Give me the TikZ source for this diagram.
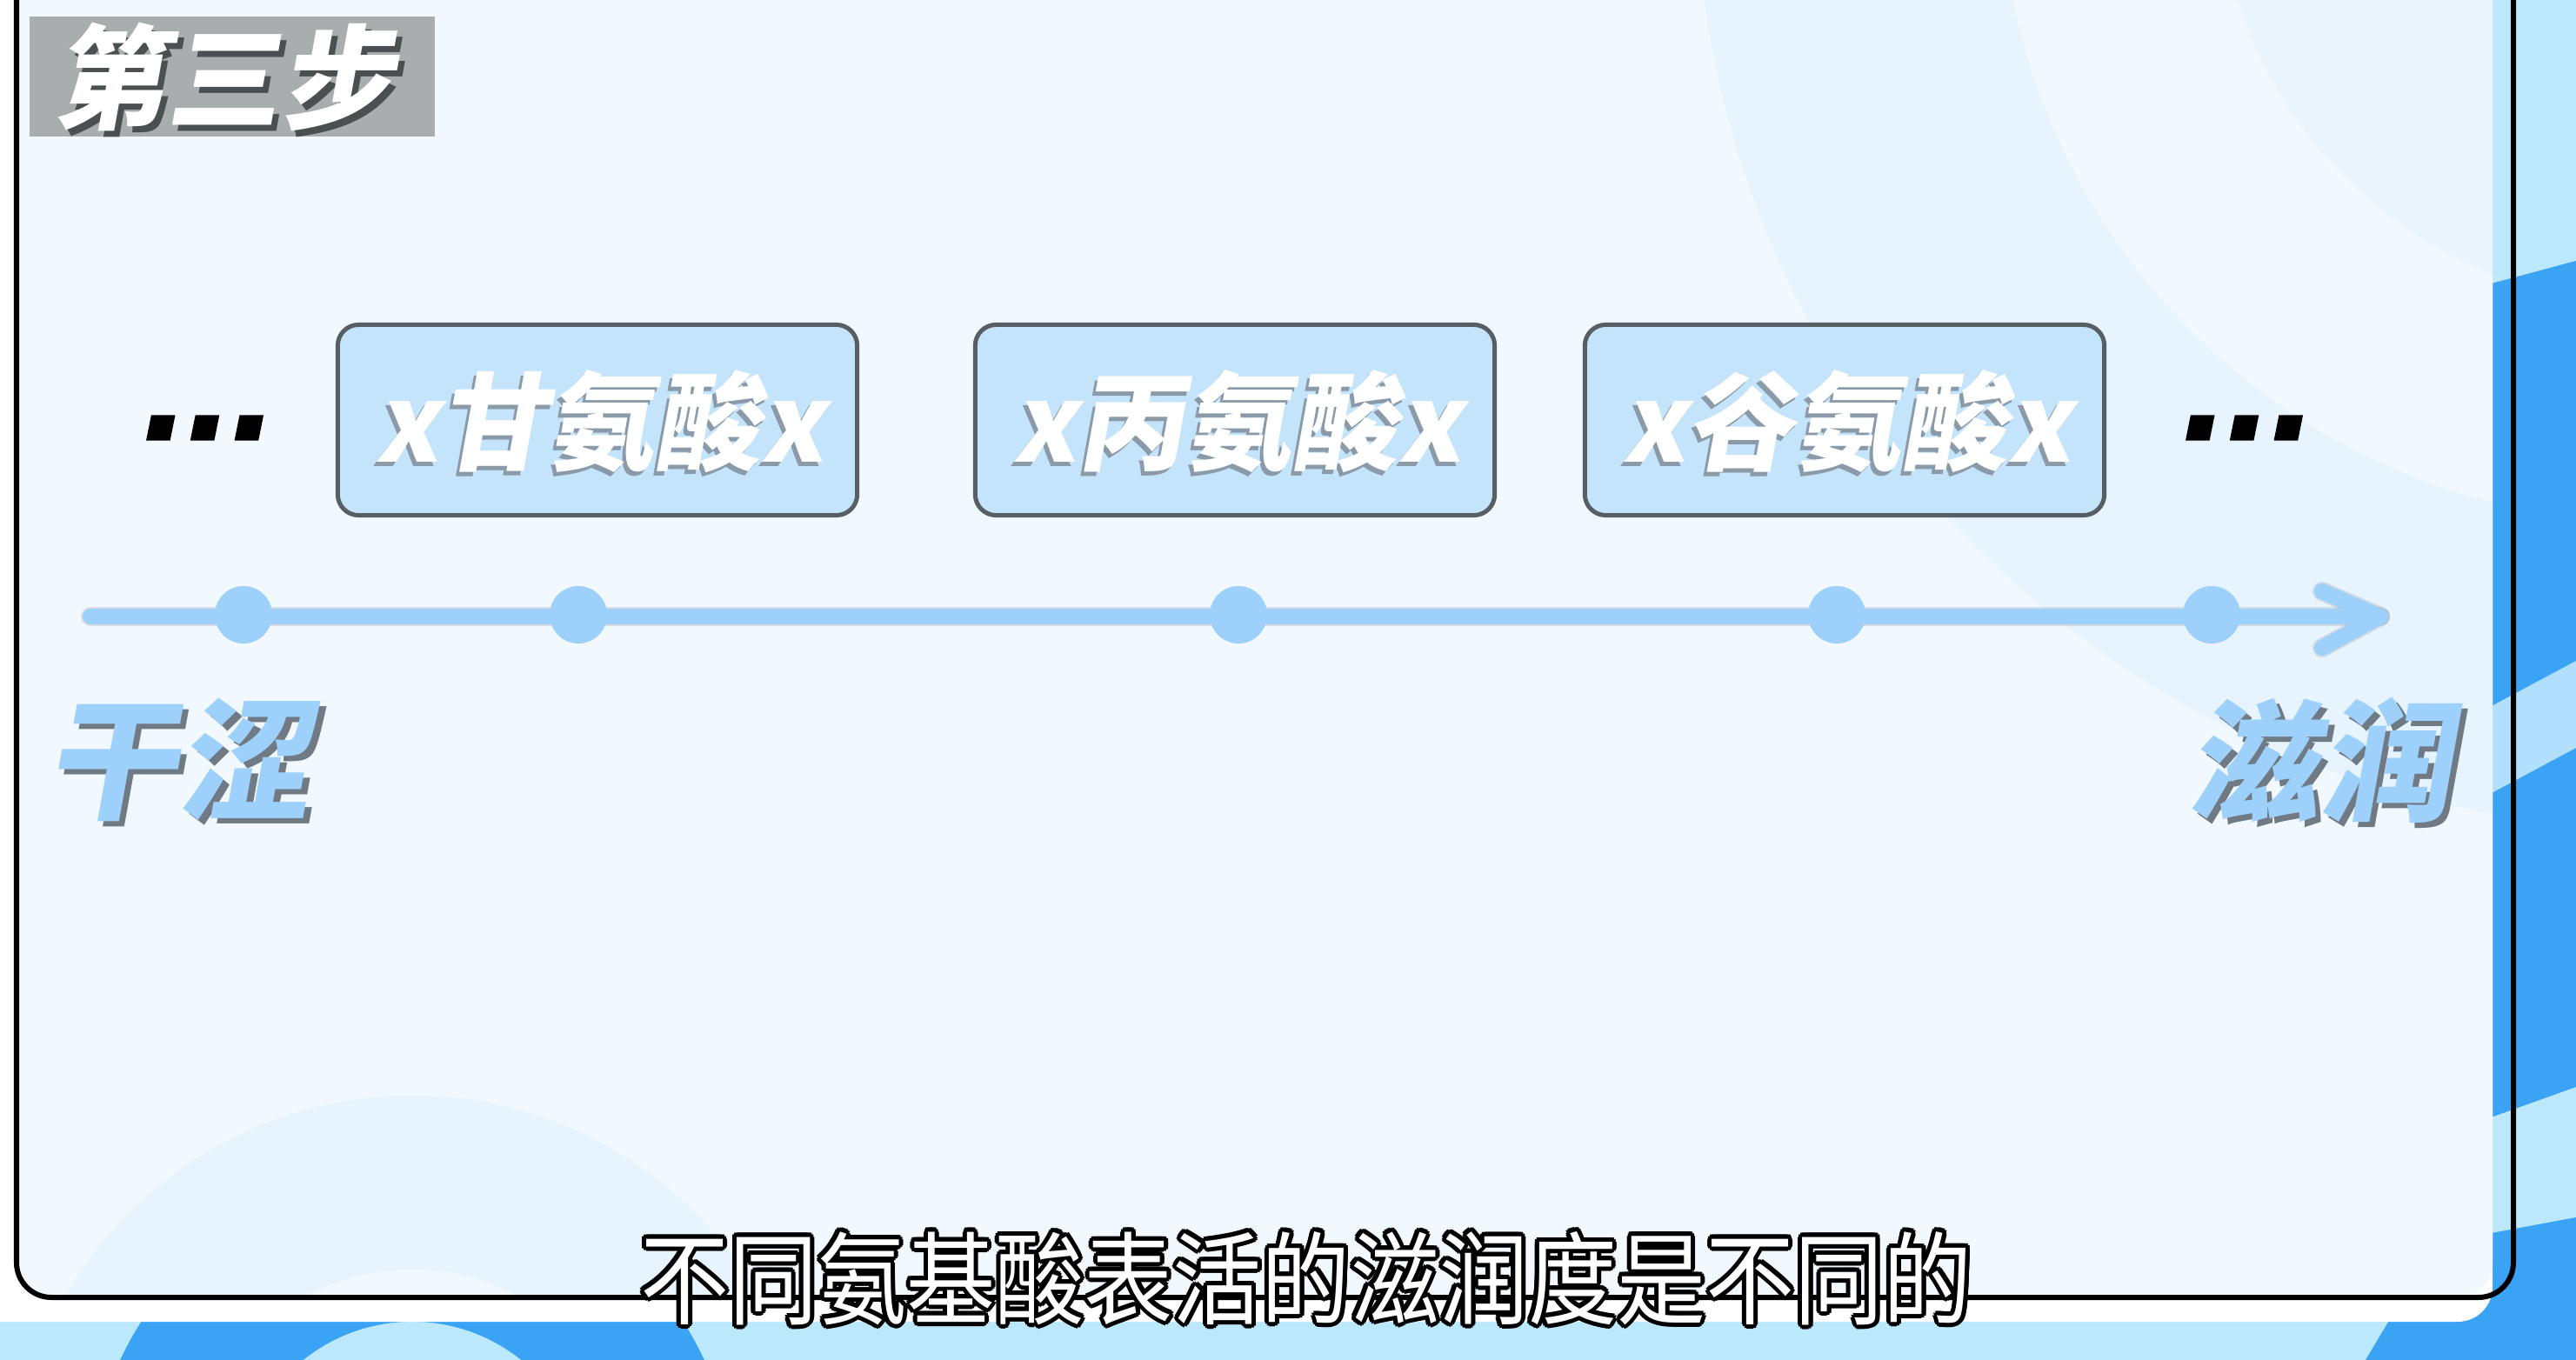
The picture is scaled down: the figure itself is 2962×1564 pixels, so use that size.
\documentclass[tikz,border=0pt]{standalone}
\usepackage{fontspec}
\newfontfamily\cjkit{Noto Sans CJK SC}[FakeSlant=0.18]
\newfontfamily\cjkup{Noto Sans CJK SC}
\newfontfamily\dotit{DejaVu Sans}[FakeSlant=0.2, FakeBold=3]
\definecolor{bgblue}{HTML}{BCE8FC}
\definecolor{brightblue}{HTML}{3AA3F4}
\definecolor{panelfill}{HTML}{F2F9FE}
\definecolor{faintblue}{HTML}{DDEEFD}
\definecolor{boxfill}{HTML}{C4E4FB}
\definecolor{boxborder}{HTML}{585F64}
\definecolor{boxshadow}{HTML}{8A9AA8}
\definecolor{arrowblue}{HTML}{9DD0FA}
\definecolor{endshadow}{HTML}{6F7A84}
\definecolor{labelgray}{HTML}{A9ADAE}
\definecolor{labelshadow}{HTML}{4A4F52}
\begin{document}
\begin{tikzpicture}[x=0.01cm,y=-0.01cm,
  boxsty/.style={draw=boxborder, fill=boxfill, line width=0.05cm, rounded corners=0.24cm, minimum width=5.97cm, minimum height=2.19cm, inner sep=0},
  boxtxt/.style={font=\cjkit\bfseries\fontsize{35}{35}\selectfont, text=white, inner sep=0},
  boxsh/.style={boxtxt, text=boxshadow},
  endtxt/.style={font=\cjkit\bfseries\fontsize{43}{43}\selectfont, text=arrowblue, inner sep=0},
  endsh/.style={endtxt, text=endshadow},
  lbltxt/.style={font=\cjkit\bfseries\fontsize{37}{37}\selectfont, text=white, inner sep=0},
  lblsh/.style={lbltxt, text=labelshadow},
  dotsty/.style={font=\dotit\bfseries\fontsize{38}{38}\selectfont, text=black, inner sep=0},
  knot/.style={circle, fill=arrowblue, minimum size=0.66cm, inner sep=0},
  axis/.style={draw=arrowblue, line width=0.18cm, line cap=round, line join=round},
  subtxt/.style={font=\cjkup\fontsize{33}{33}\selectfont, xscale=0.88, inner sep=0},
]
\useasboundingbox (0,0) rectangle (2962,1564);
% outer background
\fill[bgblue] (0,0) rectangle (2962,1564);
\fill[brightblue] (2850,330) -- (2962,300) -- (2962,1250) -- (2850,1290) -- cycle;
\fill[bgblue!70!white, opacity=0.8] (2850,820) -- (2962,760) -- (2962,860) -- (2850,920) -- cycle;
\fill[brightblue, even odd rule] (474,1720) circle (3.7cm) (474,1720) circle (2cm);
\fill[brightblue] (2720,1564) -- (2800,1430) -- (2962,1400) -- (2962,1564) -- cycle;
% panel
\fill[white, rounded corners=0.4cm] (-40,-60) rectangle (2866,1520);
\fill[panelfill, rounded corners=0.4cm] (19,-60) rectangle (2866,1492);
\begin{scope}
  \clip (19,-60) rectangle (2866,1492);
  \fill[faintblue, opacity=0.45, even odd rule] (3050,-150) circle (11cm) (3050,-150) circle (7.5cm);
  \fill[faintblue, opacity=0.3] (3050,-150) circle (5cm);
  \fill[faintblue, opacity=0.5, even odd rule] (474,1720) circle (4.6cm) (474,1720) circle (2.6cm);
\end{scope}
\draw[black, line width=0.06cm, rounded corners=0.4cm] (19,-60) -- (19,1492) -- (2890,1492) -- (2890,-60);
% step label
\node[fill=labelgray, minimum width=4.66cm, minimum height=1.38cm, inner sep=0] (stepbox) at (267,88) {};
\node[lblsh] (stepsh) at (263,95) {第三步};
\node[lbltxt] (steptxt) at (257,88) {第三步};
% boxes
\node[boxsty] (b1) at (687,483) {};
\node[boxsty] (b2) at (1420,483) {};
\node[boxsty] (b3) at (2121,483) {};
\node[boxsh] (t1sh) at (686,490) {x甘氨酸x};
\node[boxtxt] (t1) at (690,485) {x甘氨酸x};
\node[boxsh] (t2sh) at (1419,490) {x丙氨酸x};
\node[boxtxt] (t2) at (1423,485) {x丙氨酸x};
\node[boxsh] (t3sh) at (2120,490) {x谷氨酸x};
\node[boxtxt] (t3) at (2124,485) {x谷氨酸x};
% dots
\node[dotsty] (ldots) at (233,492) {...};
\node[dotsty] (rdots) at (2578,492) {...};
% axis
\coordinate (ls) at (104,709);
\coordinate (ae) at (2737,709);
\coordinate (aw1) at (2670,680);
\coordinate (aw2) at (2670,745);
\begin{scope}[yshift=-0.1cm]
\draw[axis, draw=black, opacity=0.10, line width=0.22cm] (ls) -- (ae);
\draw[axis, draw=black, opacity=0.10, line width=0.22cm] (aw1) -- (ae) -- (aw2);
\end{scope}
\draw[axis] (ls) -- (ae);
\draw[axis] (aw1) -- (ae) -- (aw2);
\node[knot] (k1) at (280,707) {};
\node[knot] (k2) at (665,707) {};
\node[knot] (k3) at (1424,707) {};
\node[knot] (k4) at (2112,707) {};
\node[knot] (k5) at (2543,707) {};
% end labels
\node[endsh] (dsh) at (210,880) {干涩};
\node[endtxt] (dry) at (204,874) {干涩};
\node[endsh] (msh) at (2673,880) {滋润};
\node[endtxt] (moist) at (2667,874) {滋润};
% subtitle
\foreach \a [count=\i] in {0,30,...,330} {
  \begin{scope}[shift={(\a:5)}]
    \node[subtxt, text=black] (subo\i) at (1502,1470) {不同氨基酸表活的滋润度是不同的};
  \end{scope}
}
\node[subtxt, text=white] (sub) at (1502,1470) {不同氨基酸表活的滋润度是不同的};
\end{tikzpicture}
\end{document}
